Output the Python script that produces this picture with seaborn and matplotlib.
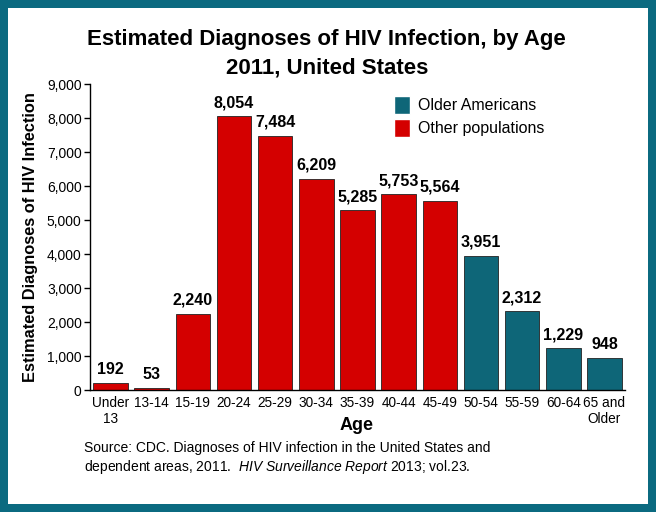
import pandas as pd
import matplotlib.pyplot as plt
import seaborn as sns
from matplotlib.patches import Rectangle, Patch

ages = ['Under\n13', '13-14', '15-19', '20-24', '25-29', '30-34', '35-39',
        '40-44', '45-49', '50-54', '55-59', '60-64', '65 and\nOlder']
diagnoses = [192, 53, 2240, 8054, 7484, 6209, 5285, 5753, 5564, 3951, 2312, 1229, 948]
groups = ['Other populations'] * 9 + ['Older Americans'] * 4
y_ticks = [0, 1000, 2000, 3000, 4000, 5000, 6000, 7000, 8000, 9000]

df = pd.DataFrame({'age': ages, 'n': diagnoses, 'group': groups})

sns.set_style('white')
plt.rcParams['font.family'] = ['Liberation Sans', 'DejaVu Sans']
plt.rcParams['mathtext.fontset'] = 'custom'
plt.rcParams['mathtext.it'] = 'Liberation Sans:italic'
plt.rcParams['mathtext.rm'] = 'Liberation Sans'
plt.rcParams['text.color'] = 'black'
plt.rcParams['axes.labelcolor'] = 'black'
plt.rcParams['xtick.color'] = 'black'
plt.rcParams['ytick.color'] = 'black'

teal = '#0e6678'
red = '#d40000'
palette = {'Older Americans': teal, 'Other populations': red}

fig = plt.figure(figsize=(6.56, 5.12), dpi=100)
fig.patch.set_facecolor('#0b6a80')
fig.add_artist(Rectangle((8 / 656, 8 / 512), 640 / 656, 496 / 512,
                         transform=fig.transFigure, facecolor='white',
                         edgecolor='none', zorder=0))

ax = fig.add_axes([90 / 656, 1 - 390 / 512, 535 / 656, 306 / 512])
ax.set_facecolor('none')
sns.barplot(data=df, x='age', y='n', hue='group', palette=palette, dodge=False,
            saturation=1, width=0.84, edgecolor='#222222', linewidth=0.6,
            legend=False, ax=ax)

for i, v in enumerate(diagnoses):
    ax.text(i, v + 180, f'{v:,}', ha='center', va='bottom',
            fontsize=11.5, fontweight='bold')

ax.set_xlim(-0.5, 12.5)
ax.set_ylim(0, 9000)
ax.set_yticks(y_ticks)
ax.set_yticklabels([f'{t:,}' for t in y_ticks], fontsize=10)
ax.tick_params(axis='y', length=4, width=1, color='black', pad=2, left=True)
ax.tick_params(axis='x', length=0, labelsize=9.8, pad=4)
sns.despine(ax=ax)
for s in ['left', 'bottom']:
    ax.spines[s].set_color('black')
    ax.spines[s].set_linewidth(1)

ax.set_xlabel('')
ax.set_ylabel('Estimated Diagnoses of HIV Infection', fontsize=11.8,
              fontweight='bold', labelpad=6)
fig.text(357 / 656, 1 - 425 / 512, 'Age', ha='center', va='center',
         fontsize=13, fontweight='bold')

fig.text(0.498, 1 - 40 / 512, 'Estimated Diagnoses of HIV Infection, by Age',
         ha='center', va='center', fontsize=16, fontweight='bold')
fig.text(0.498, 1 - 68 / 512, '2011, United States',
         ha='center', va='center', fontsize=16, fontweight='bold')

handles = [Patch(facecolor=teal, label='Older Americans'),
           Patch(facecolor=red, label='Other populations')]
fig.legend(handles=handles, loc='upper left', bbox_to_anchor=(380 / 656, 1 - 82 / 512),
           frameon=False, fontsize=11.5, handlelength=1.0, handleheight=1.3,
           handletextpad=0.5, labelspacing=0.35)

fig.text(84 / 656, 1 - 448 / 512,
         'Source: CDC. Diagnoses of HIV infection in the United States and',
         ha='left', va='center', fontsize=10)
fig.text(84 / 656, 1 - 467 / 512,
         'dependent areas, 2011.  $\\it{HIV\\ Surveillance\\ Report}$ 2013; vol.23.',
         ha='left', va='center', fontsize=10)

plt.savefig('out.png', dpi=100, facecolor=fig.get_facecolor())
